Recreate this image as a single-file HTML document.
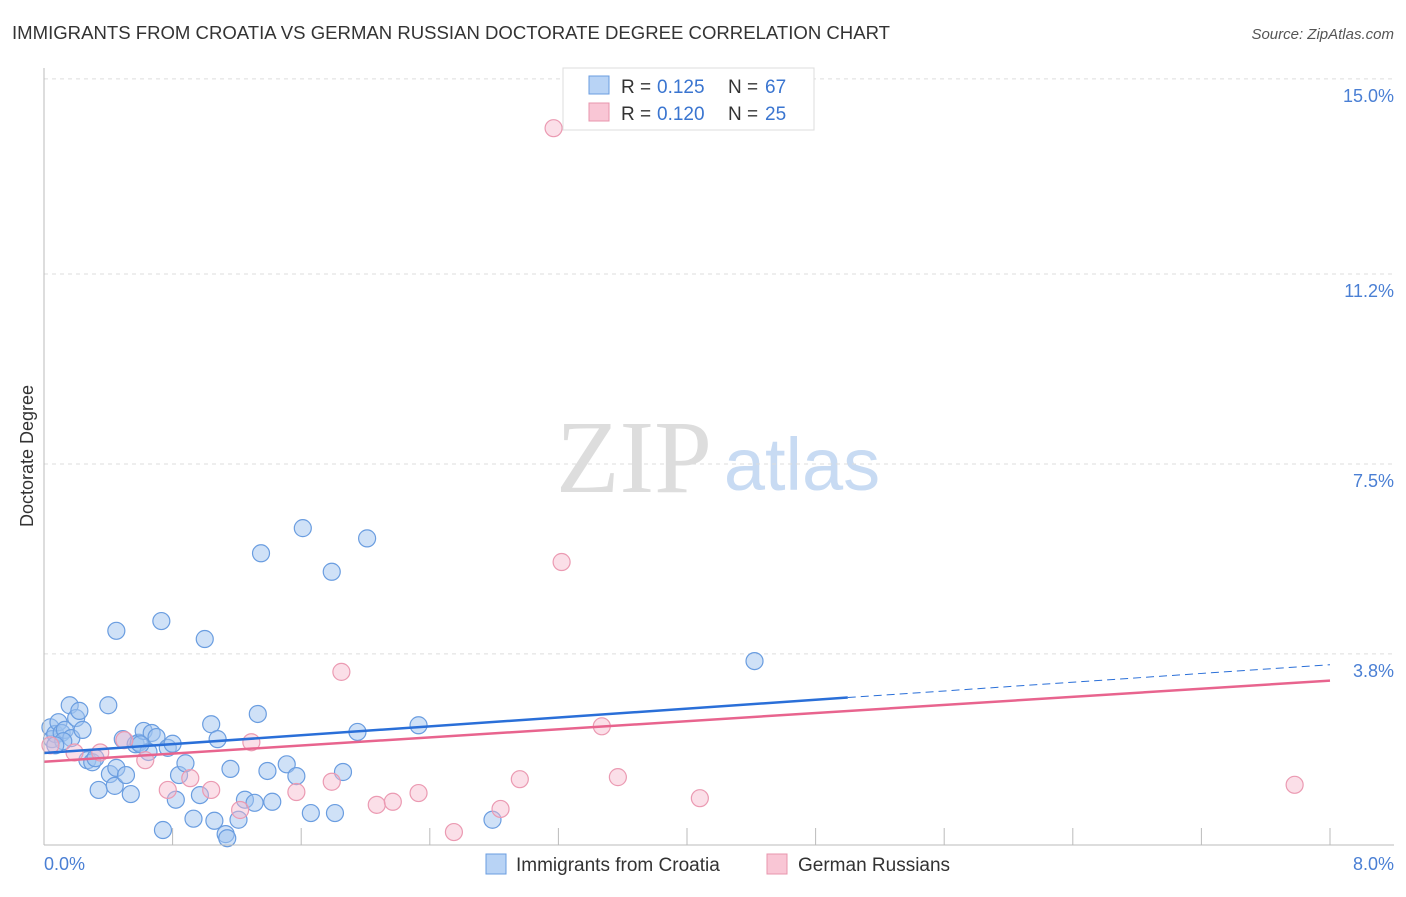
<!DOCTYPE html>
<html><head><meta charset="utf-8"><style>
body{margin:0;background:#fff;font-family:"Liberation Sans",sans-serif;}
</style></head><body>
<svg id="chart" width="1406" height="892" xmlns="http://www.w3.org/2000/svg">
<text x="12" y="39" font-size="18" fill="#333" textLength="878" lengthAdjust="spacingAndGlyphs">IMMIGRANTS FROM CROATIA VS GERMAN RUSSIAN DOCTORATE DEGREE CORRELATION CHART</text>
<text x="1394" y="39" font-size="15" fill="#555" font-style="italic" text-anchor="end">Source: ZipAtlas.com</text>
<text x="634" y="492" font-size="104" fill="#ddd" font-family="Liberation Serif,serif" text-anchor="middle">ZIP</text>
<text x="802" y="490" font-size="74" fill="#c8dbf3" text-anchor="middle">atlas</text>
<text transform="translate(33,456) rotate(-90)" font-size="18" fill="#333" text-anchor="middle">Doctorate Degree</text>
<g id="grid"></g><g id="pts"></g><g id="lines"></g>
<line x1="44" y1="68" x2="44" y2="845" stroke="#bbb"/>
<line x1="44" y1="845" x2="1394" y2="845" stroke="#bbb"/>
<text x="44" y="870" font-size="18" fill="#4a7fd4">0.0%</text>
<text x="1394" y="870" font-size="18" fill="#4a7fd4" text-anchor="end">8.0%</text>
<g>
<rect x="563" y="68" width="251" height="62" fill="#fff" stroke="#ddd"/>
<rect x="589" y="76" width="20" height="18" fill="#b8d3f5" stroke="#6a9de0"/>
<rect x="589" y="103" width="20" height="18" fill="#f9c6d5" stroke="#e895ad"/>
<text x="621" y="93" font-size="19" fill="#333">R =</text><text x="657" y="93" font-size="19" fill="#3a75d0">0.125</text>
<text x="728" y="93" font-size="19" fill="#333">N =</text><text x="765" y="93" font-size="19" fill="#3a75d0">67</text>
<text x="621" y="120" font-size="19" fill="#333">R =</text><text x="657" y="120" font-size="19" fill="#3a75d0">0.120</text>
<text x="728" y="120" font-size="19" fill="#333">N =</text><text x="765" y="120" font-size="19" fill="#3a75d0">25</text>
</g>
<g>
<rect x="486" y="854" width="20" height="20" fill="#b8d3f5" stroke="#6a9de0"/>
<text x="516" y="871" font-size="19" fill="#333">Immigrants from Croatia</text>
<rect x="767" y="854" width="20" height="20" fill="#f9c6d5" stroke="#e895ad"/>
<text x="798" y="871" font-size="19" fill="#333">German Russians</text>
</g>
</svg>
<script>
const yTicks=[15.0,11.2,7.5,3.8];
const xTickCount=10;
const blueX=[0.04,0.05,0.07,0.09,0.11,0.13,0.16,0.17,0.20,0.22,0.24,0.27,0.30,0.32,0.34,0.40,0.41,0.44,0.45,0.45,0.49,0.51,0.54,0.57,0.59,0.62,0.65,0.67,0.70,0.73,0.74,0.77,0.80,0.82,0.84,0.88,0.93,0.97,1.00,1.04,1.06,1.08,1.13,1.16,1.21,1.25,1.31,1.33,1.35,1.39,1.42,1.51,1.57,1.61,1.66,1.79,1.81,1.86,1.95,2.01,2.33,2.79,4.42,1.14,0.12,0.60,0.07];
const blueY=[2.37,2.14,2.24,2.47,2.26,2.32,2.80,2.16,2.55,2.69,2.32,1.73,1.69,1.77,1.15,2.80,1.46,1.23,4.25,1.58,2.14,1.44,1.07,2.04,2.07,2.30,1.89,2.26,2.18,4.44,0.37,1.97,2.05,0.96,1.44,1.67,0.59,1.05,4.09,2.43,0.55,2.14,0.29,1.56,0.57,0.96,0.90,2.63,5.76,1.52,0.92,1.65,1.42,6.25,0.70,5.40,0.70,1.50,2.28,6.05,2.41,0.57,3.66,0.21,2.10,2.04,2.02];
const pinkX=[3.17,3.22,1.85,3.47,1.29,0.50,0.35,0.63,0.91,0.77,1.04,1.22,1.57,1.79,2.07,2.17,2.33,2.55,2.84,2.96,3.57,4.08,7.78,0.19,0.04];
const pinkY=[14.04,5.59,3.45,2.39,2.08,2.12,1.88,1.73,1.38,1.15,1.15,0.76,1.11,1.31,0.86,0.92,1.09,0.33,0.78,1.36,1.40,0.99,1.25,1.88,2.02];
const blueTrend=[1.87,2.95,3.59];
const pinkTrend=[1.70,3.28];
const NS="http://www.w3.org/2000/svg";
const sx=v=>44+v/8*1286, sy=v=>849-v*51.34;
function mk(tag,attrs,parent){const e=document.createElementNS(NS,tag);for(const k in attrs)e.setAttribute(k,attrs[k]);document.getElementById(parent).appendChild(e);return e;}
yTicks.forEach((t,i)=>{
 const l=mk('line',{x1:44,x2:1394,y1:sy(t),y2:sy(t),stroke:'#ddd','stroke-dasharray':'4,4'},'grid');
 
 
 const tx=mk('text',{x:1394,y:sy(t)+23,'font-size':18,fill:'#4a7fd4','text-anchor':'end'},'grid');
 tx.textContent=t.toFixed(1)+'%';
 
 
});
for(let i=1;i<=xTickCount;i++){
 const l=mk('line',{x1:sx(i*0.8),x2:sx(i*0.8),y1:828,y2:845,stroke:'#bbb'},'grid');
 
 
}
blueX.forEach((x,i)=>{
 const c=mk('circle',{cx:sx(x),cy:sy(blueY[i]),r:8.5,fill:'rgba(160,196,240,0.5)',stroke:'#6a9de0','stroke-width':1.2},'pts');
 
 
});
pinkX.forEach((x,i)=>{
 const c=mk('circle',{cx:sx(x),cy:sy(pinkY[i]),r:8.5,fill:'rgba(247,185,205,0.45)',stroke:'#eb9ab2','stroke-width':1.2},'pts');
 
 
});
let l=mk('line',{x1:sx(0),y1:sy(blueTrend[0]),x2:sx(5),y2:sy(blueTrend[1]),stroke:'#2a6fd8','stroke-width':2.5},'lines');


l=mk('line',{x1:sx(5),y1:sy(blueTrend[1]),x2:sx(8),y2:sy(blueTrend[2]),stroke:'#2a6fd8','stroke-width':1,'stroke-dasharray':'8,5'},'lines');


l=mk('line',{x1:sx(0),y1:sy(pinkTrend[0]),x2:sx(8),y2:sy(pinkTrend[1]),stroke:'#e8648e','stroke-width':2.5},'lines');


</script>
</body></html>
